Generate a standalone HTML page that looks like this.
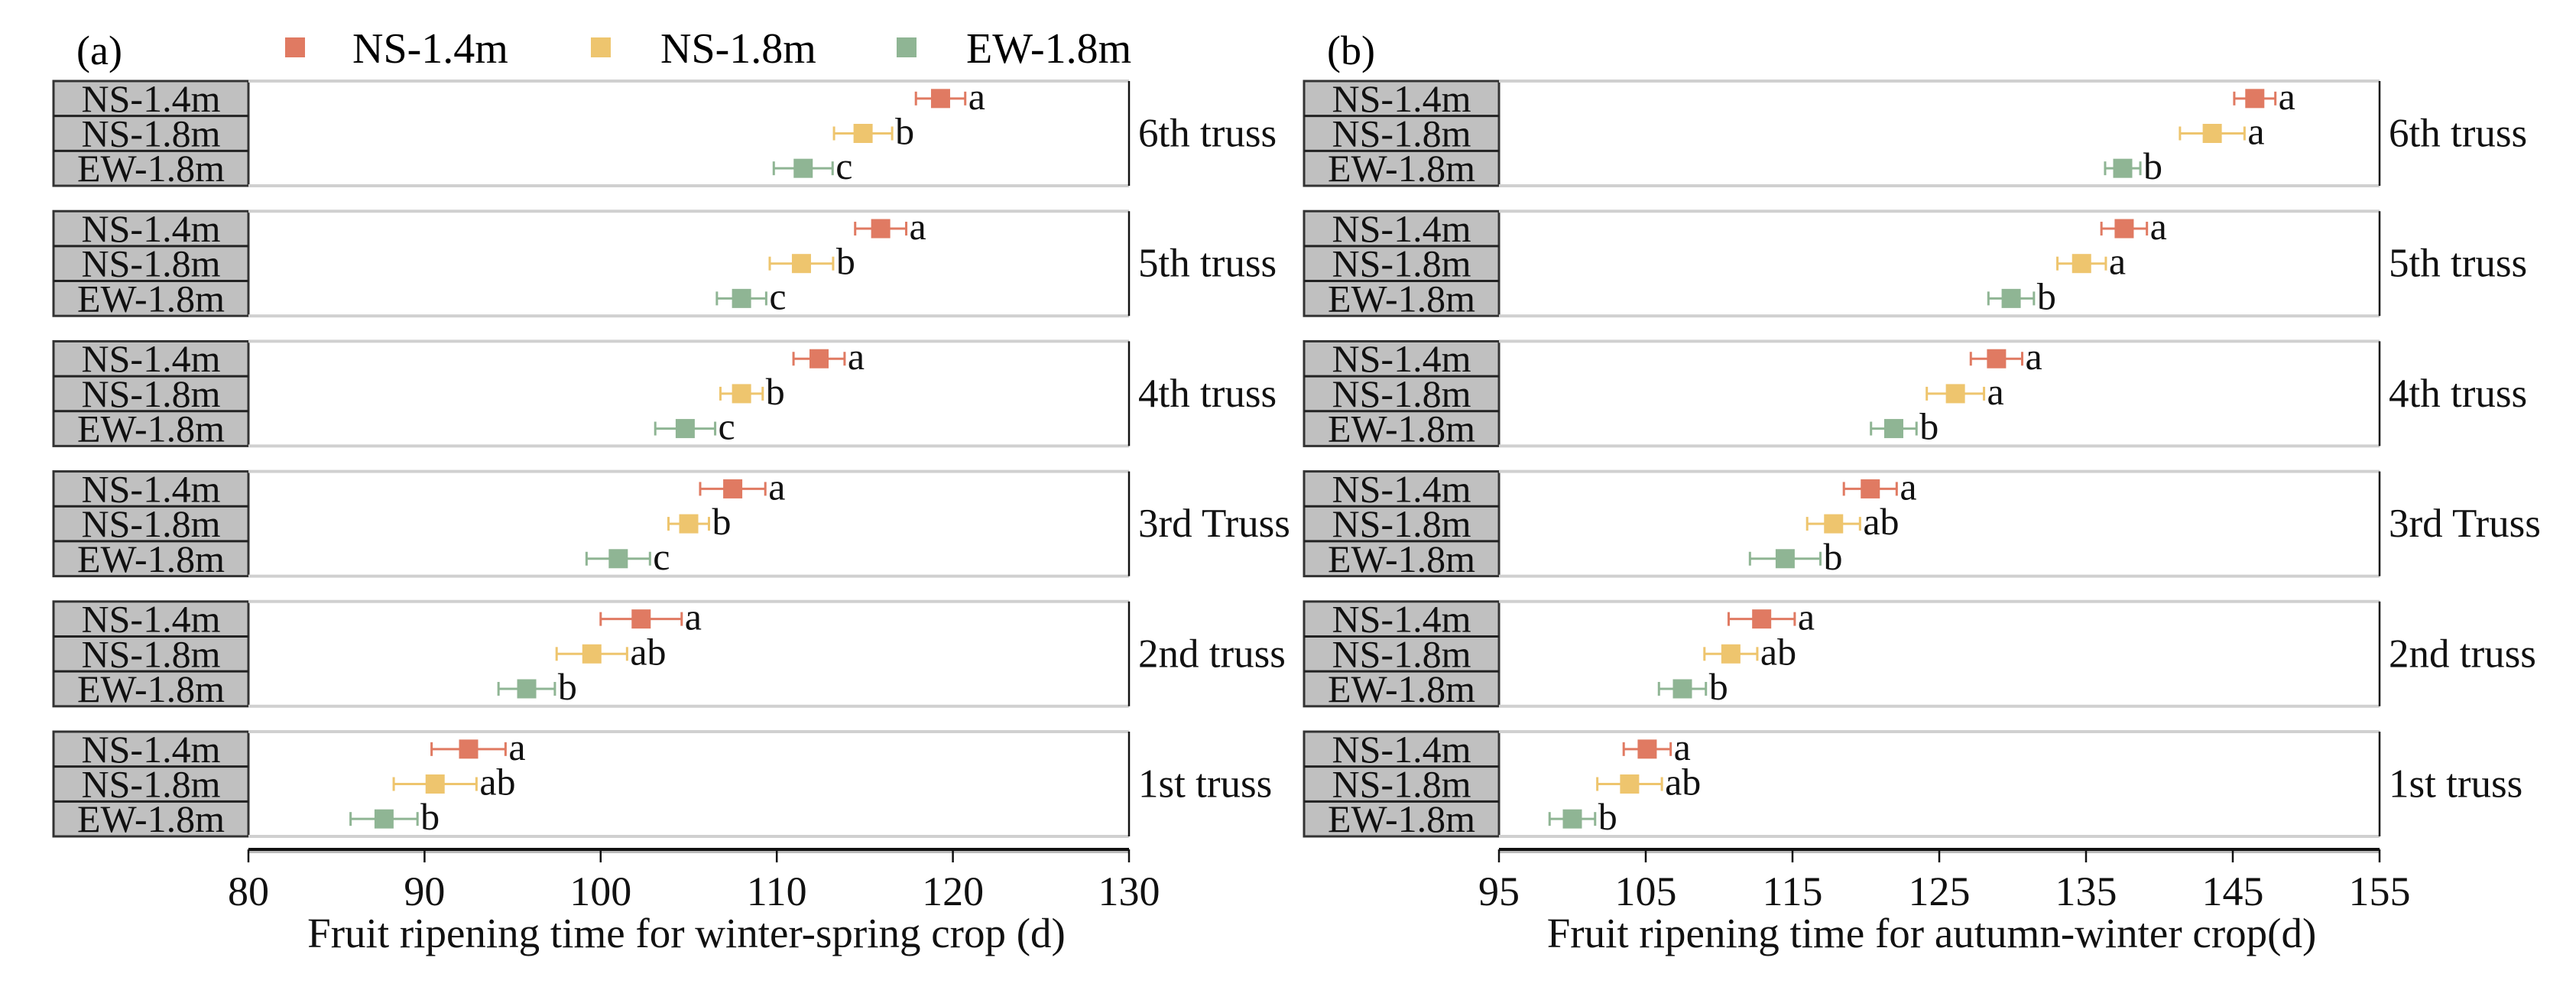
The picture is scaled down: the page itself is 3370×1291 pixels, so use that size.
<!DOCTYPE html>
<html><head><meta charset="utf-8"><style>
html,body{margin:0;padding:0;background:#fff;}
svg{display:block;font-family:"Liberation Serif",serif;}
</style></head>
<body>
<svg id="chart" width="3370" height="1291" viewBox="0 0 3370 1291" xmlns="http://www.w3.org/2000/svg">
<text x="100" y="84" font-size="54">(a)</text>
<text x="1736" y="84" font-size="54">(b)</text>
<g>
<rect x="373" y="49" width="26" height="26" fill="#E07A62"/>
<text x="461" y="82" font-size="56">NS-1.4m</text>
<rect x="773" y="49" width="26" height="26" fill="#EEC56E"/>
<text x="864" y="82" font-size="56">NS-1.8m</text>
<rect x="1173" y="49" width="26" height="26" fill="#8FB594"/>
<text x="1264" y="82" font-size="56">EW-1.8m</text>
</g>
</svg>
<script>
const trusses = ["6th truss","5th truss","4th truss","3rd Truss","2nd truss","1st truss"];
const treatments = ["NS-1.4m","NS-1.8m","EW-1.8m"];
const colors = ["#E07A62","#EEC56E","#8FB594"];
// Panel (a): winter-spring crop, rows = trusses (top to bottom)
const wsNS14 = [119.3,115.9,112.4,107.5,102.3,92.5];
const wsNS18 = [114.9,111.4,108.0,105.0,99.5,90.6];
const wsEW18 = [111.5,108.0,104.8,101.0,95.8,87.7];
const wsErrNS14 = [1.4,1.45,1.45,1.85,2.3,2.1];
const wsErrNS18 = [1.65,1.8,1.2,1.15,2.0,2.35];
const wsErrEW18 = [1.67,1.4,1.7,1.8,1.6,1.9];
const wsLetNS14 = ["a","a","a","a","a","a"];
const wsLetNS18 = ["b","b","b","b","ab","ab"];
const wsLetEW18 = ["c","c","c","c","b","b"];
const wsTicks = [80,90,100,110,120,130];
// Panel (b): autumn-winter crop
const awNS14 = [146.5,137.6,128.9,120.3,112.9,105.1];
const awNS18 = [143.6,134.7,126.1,117.8,110.8,103.9];
const awEW18 = [137.5,129.9,121.9,114.5,107.5,100.0];
const awErrNS14 = [1.4,1.55,1.75,1.8,2.25,1.6];
const awErrNS18 = [2.2,1.65,1.95,1.8,1.8,2.2];
const awErrEW18 = [1.2,1.55,1.55,2.4,1.6,1.55];
const awLetNS14 = ["a","a","a","a","a","a"];
const awLetNS18 = ["a","a","a","ab","ab","ab"];
const awLetEW18 = ["b","b","b","b","b","b"];
const awTicks = [95,105,115,125,135,145,155];

const NS = "http://www.w3.org/2000/svg";
const svg = document.getElementById("chart");
function mk(tag, attrs, parent){const e=document.createElementNS(NS,tag);for(const k in attrs)e.setAttribute(k,attrs[k]);(parent||svg).appendChild(e);return e;}

function drawPanel(p){
  const g = mk("g",{});
  
  
  const x = v => p.x0 + (v - p.vmin) * (p.x1 - p.x0) / (p.vmax - p.vmin);
  const top0 = 106, pitch = 170.2, ph = 137, rh = ph/3;
  const series = [p.s0,p.s1,p.s2], errs=[p.e0,p.e1,p.e2], lets=[p.l0,p.l1,p.l2];
  trusses.forEach((t,i)=>{
    const ty = top0 + i*pitch;
    const strip = mk("rect",{x:p.sx,y:ty,width:p.x0-p.sx,height:ph,fill:"#c0c0c0",stroke:"#333","stroke-width":3},g);
    
    
    for(let r=1;r<3;r++) mk("line",{x1:p.sx,x2:p.x0,y1:ty+r*rh,y2:ty+r*rh,stroke:"#222","stroke-width":3},g);
    treatments.forEach((tr,r)=>{
      const tx = mk("text",{x:(p.sx+p.x0)/2,y:ty+r*rh+rh/2+17,"font-size":50,"text-anchor":"middle",fill:"#111"},g);
      tx.textContent = tr;
      
      
    });
    mk("line",{x1:p.x0,x2:p.x1,y1:ty,y2:ty,stroke:"#d0d0d0","stroke-width":4},g);
    mk("line",{x1:p.x0,x2:p.x1,y1:ty+ph,y2:ty+ph,stroke:"#d0d0d0","stroke-width":4},g);
    const rb = mk("line",{x1:p.x1,x2:p.x1,y1:ty,y2:ty+ph,stroke:"#111","stroke-width":2.5},g);
    
    
    const tl = mk("text",{x:p.x1+12,y:ty+ph/2+17,"font-size":53,fill:"#111"},g);
    tl.textContent = t;
    
    
    for(let s=0;s<3;s++){
      const cy = ty + s*rh + rh/2;
      const v = series[s][i], e = errs[s][i];
      const xl = x(v-e), xr = x(v+e), c = colors[s];
      const eb = mk("g",{},g);
      
      
      mk("line",{x1:xl,x2:xr,y1:cy,y2:cy,stroke:c,"stroke-width":3},eb);
      mk("line",{x1:xl,x2:xl,y1:cy-9,y2:cy+9,stroke:c,"stroke-width":3},eb);
      mk("line",{x1:xr,x2:xr,y1:cy-9,y2:cy+9,stroke:c,"stroke-width":3},eb);
      const pt = mk("rect",{x:x(v)-12.5,y:cy-12.5,width:25,height:25,fill:c},g);
      
      
      const lt = mk("text",{x:xr+4,y:cy+14,"font-size":50,fill:"#111"},g);
      lt.textContent = lets[s][i];
      
      
    }
  });
  const ay = 1111;
  mk("line",{x1:p.x0,x2:p.x1,y1:ay+3,y2:ay+3,stroke:"#bbb","stroke-width":4},g);
  const ax = mk("line",{x1:p.x0,x2:p.x1,y1:ay,y2:ay,stroke:"#111","stroke-width":4},g);
  
  
  p.ticks.forEach(tv=>{
    mk("line",{x1:x(tv),x2:x(tv),y1:ay,y2:ay+17,stroke:"#111","stroke-width":2.5},g);
    const tt = mk("text",{x:x(tv),y:1184,"font-size":54,"text-anchor":"middle",fill:"#111"},g);
    tt.textContent = tv;
    
    
  });
  const at = mk("text",{x:(p.x0+p.x1)/2+p.tdx,y:1239,"font-size":55,"text-anchor":"middle",fill:"#111"},g);
  at.textContent = p.title;
  
  
}

drawPanel({name:"panel-winter-spring",sx:70,x0:325,x1:1477,vmin:80,vmax:130,ticks:wsTicks,
  s0:wsNS14,s1:wsNS18,s2:wsEW18,e0:wsErrNS14,e1:wsErrNS18,e2:wsErrEW18,l0:wsLetNS14,l1:wsLetNS18,l2:wsLetEW18,
  title:"Fruit ripening time for winter-spring crop (d)",tdx:-3});
drawPanel({name:"panel-autumn-winter",sx:1706,x0:1961,x1:3113,vmin:95,vmax:155,ticks:awTicks,
  s0:awNS14,s1:awNS18,s2:awEW18,e0:awErrNS14,e1:awErrNS18,e2:awErrEW18,l0:awLetNS14,l1:awLetNS18,l2:awLetEW18,
  title:"Fruit ripening time for autumn-winter crop(d)",tdx:-10});
</script>
</body></html>
